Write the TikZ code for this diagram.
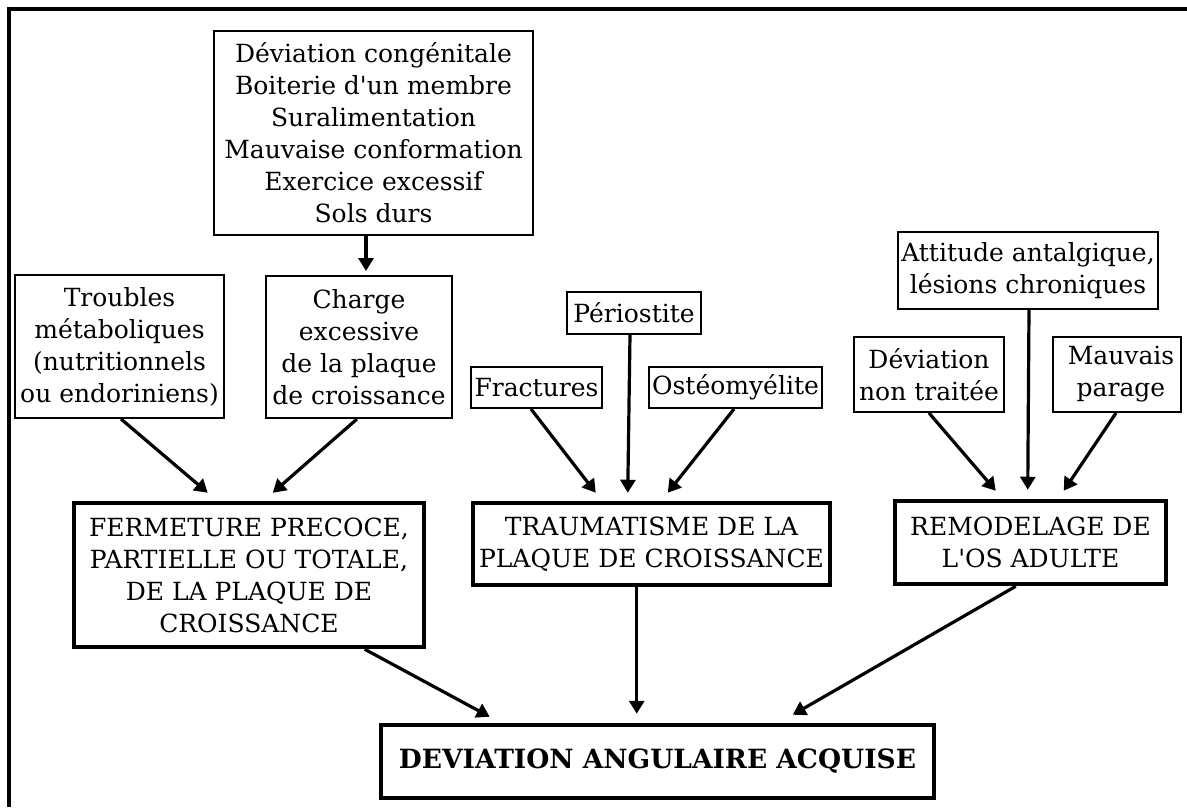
\documentclass[tikz,border=0pt]{standalone}
\usepackage{fontspec}
\setmainfont{DejaVu Serif}[Ligatures=TeXOff]
\usetikzlibrary{arrows.meta}
\begin{document}
\begin{tikzpicture}[x=1pt,y=-1pt,
  box/.style={draw, line width=2pt, inner sep=0pt, align=center, font=\fontsize{25}{32}\selectfont},
  bigbox/.style={box, line width=4.5pt},
  arr/.style={line width=3.2pt, -{Triangle[length=13pt,width=15pt]}},
  frame/.style={line width=4.5pt}
]
\useasboundingbox (0,0) rectangle (1187,807);
\draw[frame] (1187,9) -- (9,9) -- (9,807);

\node[box, minimum width=319pt, minimum height=204pt] (top) at (373.5,133)
  {Déviation congénitale\\Boiterie d'un membre\\Suralimentation\\Mauvaise conformation\\Exercice excessif\\Sols durs};
\node[box, minimum width=209pt, minimum height=143pt] (troubles) at (119.5,346.5)
  {Troubles\\métaboliques\\(nutritionnels\\ou endoriniens)};
\node[box, minimum width=186pt, minimum height=142pt] (charge) at (359,347)
  {Charge\\excessive\\de la plaque\\de croissance};
\node[box, minimum width=134pt, minimum height=42pt] (perio) at (634,313) {Périostite};
\node[box, minimum width=131pt, minimum height=41pt] (fract) at (536.5,387.5) {Fractures};
\node[box, minimum width=173pt, minimum height=41pt] (osteo) at (735.5,387.5) {Ostéomyélite};
\node[box, minimum width=260pt, minimum height=77pt] (attitude) at (1028,270.5)
  {Attitude antalgique,\\lésions chroniques};
\node[box, minimum width=150pt, minimum height=75pt] (devnt) at (929,374.5) {Déviation\\non traitée};
\node[box, minimum width=128pt, minimum height=75pt] (mauvais) at (1117,374.5) {\hspace*{8pt}Mauvais\\\hspace*{8pt}parage};

\node[bigbox, minimum width=350pt, minimum height=144pt] (ferm) at (249,575)
  {FERMETURE PRECOCE,\\PARTIELLE OU TOTALE,\\DE LA PLAQUE DE\\CROISSANCE};
\node[bigbox, minimum width=357pt, minimum height=82pt] (trauma) at (651.5,544)
  {TRAUMATISME DE LA\\PLAQUE DE CROISSANCE};
\node[bigbox, minimum width=271pt, minimum height=83pt] (remod) at (1030.5,542.5)
  {REMODELAGE DE\\L'OS ADULTE};
\node[bigbox, minimum width=553pt, minimum height=73pt, font=\fontsize{26.5}{32}\selectfont\bfseries] (dev) at (657.5,761.5)
  {DEVIATION ANGULAIRE ACQUISE};

\draw[arr] ([xshift=-7.5pt]top.south) -- ([xshift=7pt,yshift=4pt]charge.north);
\draw[arr] ([xshift=107pt]troubles.south west) -- ([xshift=136pt,yshift=8pt]ferm.north west);
\draw[arr] ([xshift=92pt]charge.south west) -- ([xshift=201pt,yshift=8pt]ferm.north west);
\draw[arr] ([xshift=-4pt]perio.south) -- ([xshift=157pt,yshift=8pt]trauma.north west);
\draw[arr] ([xshift=61pt]fract.south west) -- ([xshift=125pt,yshift=8pt]trauma.north west);
\draw[arr] ([xshift=86pt]osteo.south west) -- ([xshift=197pt,yshift=8pt]trauma.north west);
\draw[arr] ([xshift=132pt]attitude.south west) -- ([xshift=135pt,yshift=9pt]remod.north west);
\draw[arr] ([xshift=76pt]devnt.south west) -- ([xshift=103pt,yshift=8pt]remod.north west);
\draw[arr] ([xshift=64pt]mauvais.south west) -- ([xshift=171pt,yshift=8pt]remod.north west);
\draw[arr] ([xshift=293pt]ferm.south west) -- ([xshift=111pt,yshift=6pt]dev.north west);
\draw[arr] ([xshift=166pt]trauma.south west) -- ([xshift=258pt,yshift=9pt]dev.north west);
\draw[arr] ([xshift=123pt]remod.south west) -- ([xshift=414pt,yshift=8pt]dev.north west);
\end{tikzpicture}
\end{document}
